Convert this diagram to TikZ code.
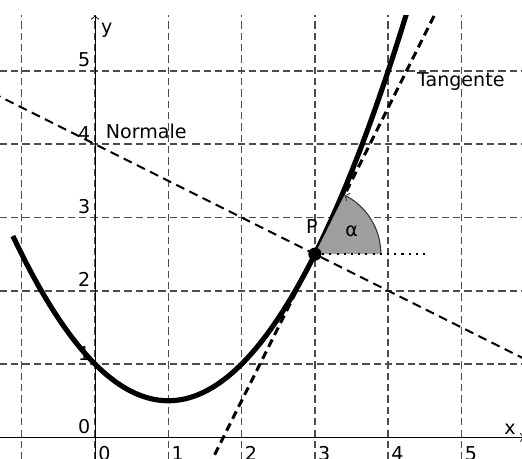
\documentclass[tikz,border=0pt]{standalone}
\usepackage{fontspec}
\setmainfont{DejaVu Sans}
\begin{document}
\begin{tikzpicture}[x=1cm,y=1cm,
  every node/.style={font=\fontsize{7.4}{9}\selectfont, inner sep=1pt},
  gridline/.style={gray!60!black, line width=0.6pt, dash pattern=on 2.8pt off 1.6pt},
  axisline/.style={black, line width=0.35pt},
  curve/.style={black, line width=2pt},
  tangentline/.style={black, line width=1.2pt, dash pattern=on 3.2pt off 2pt},
  normalline/.style={black, line width=0.8pt, dash pattern=on 3.5pt off 2.2pt}]
  \useasboundingbox (-1.296,-0.286) rectangle (5.825,5.967);
  % Points
  \coordinate (P) at (3,2.5);
  \coordinate (H) at (4.53,2.5);
  \coordinate (T1) at (1.55,-0.4);
  \coordinate (T2) at (4.75,6);
  \coordinate (N1) at (-1.4,4.7);
  \coordinate (N2) at (5.9,1.05);
  \begin{scope}
    \clip (-1.296,-0.286) rectangle (5.825,5.76);
    % Grid
    \foreach \i in {-1,...,5}
      \draw[gridline] (\i,-0.3) -- (\i,5.76);
    \foreach \j in {0,...,5}
      \draw[gridline] (-1.3,\j) -- (5.83,\j);
    % Tangent and normal
    \draw[normalline] (N1) -- (N2);
    \draw[tangentline] (T1) -- (T2);
    % Parabola
    \draw[curve] plot[domain=-1.12:4.3, samples=100, smooth] (\x,{0.5*(\x-1)^2+0.5});
  \end{scope}
  % Axes
  \coordinate (O) at (0,0);
  \coordinate (xend) at (5.86,0);
  \coordinate (yend) at (0,5.76);
  \draw[axisline,->] (-1.3,0) -- (xend);
  \draw[axisline,->] (0,-0.3) -- (yend);
  \node[anchor=west] (ylab) at (0.04,5.56) {y};
  \node[anchor=south] (xlab) at (5.66,0.0) {x};
  \foreach \i in {0,...,5}
    \node[anchor=north west, inner sep=0.5pt] (xt\i) at (\i+0.02,-0.1) {\i};
  \foreach \j in {0,...,5}
    \node[anchor=south east, inner sep=0.5pt] (yt\j) at (-0.04,\j+0.03) {\j};
  % Angle
  \fill[gray!75] (P) -- ++(0:0.9) arc[start angle=0, end angle=63.43, radius=0.9] -- cycle;
  \draw[gray!40!black, line width=0.4pt, ->] ([shift={(0:0.9)}]P) arc[start angle=0, end angle=63.43, radius=0.9];
  \draw[black, line width=0.8pt, dotted] (P) -- (H);
  \fill (P) circle (0.09);
  \node (plab) at (2.96,2.87) {P};
  \node (alpha) at (3.5,2.81) {α};
  \node (tlab) at (4.99,4.86) {Tangente};
  \node (nlab) at (0.70,4.18) {Normale};
\end{tikzpicture}
\end{document}
